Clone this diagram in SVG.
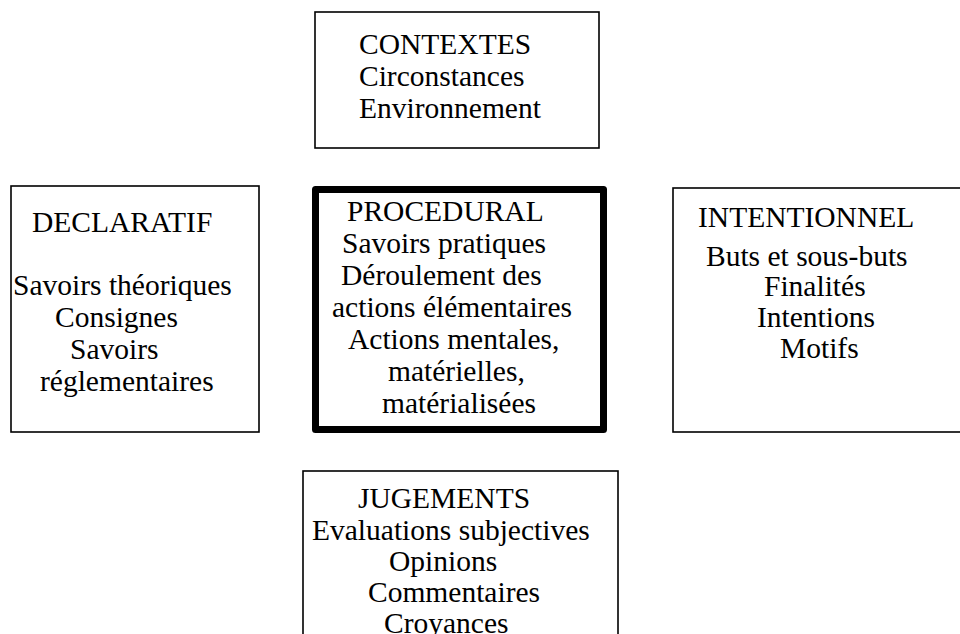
<svg xmlns="http://www.w3.org/2000/svg" width="960" height="634" viewBox="0 0 960 634">
<style>
.box{fill:#fff;stroke:#000;stroke-width:1.6}
.thick{fill:#fff;stroke:#000;stroke-width:7;stroke-linejoin:round}
text{font-family:"Liberation Serif","Times New Roman",serif;font-size:29.5px;fill:#000}
</style>
<rect x="0" y="0" width="960" height="634" fill="#fff"/>
<g id="contextes">
<rect class="box" x="315" y="12" width="284" height="136"/>
<text x="359" y="54">CONTEXTES</text>
<text x="359" y="86">Circonstances</text>
<text x="359" y="118">Environnement</text>
</g>
<g id="declaratif">
<rect class="box" x="11" y="186" width="248" height="246"/>
<text x="32" y="232">DECLARATIF</text>
<text x="13" y="295">Savoirs théoriques</text>
<text x="55" y="327">Consignes</text>
<text x="70" y="359">Savoirs</text>
<text x="40" y="391">réglementaires</text>
</g>
<g id="procedural">
<rect class="thick" x="315.5" y="189.5" width="288" height="240"/>
<text x="347" y="221">PROCEDURAL</text>
<text x="342" y="253">Savoirs pratiques</text>
<text x="341" y="285">Déroulement des</text>
<text x="332" y="317">actions élémentaires</text>
<text x="348" y="349">Actions mentales,</text>
<text x="388" y="381">matérielles,</text>
<text x="382" y="413">matérialisées</text>
</g>
<g id="intentionnel">
<rect class="box" x="673" y="188" width="300" height="244"/>
<text x="698" y="227">INTENTIONNEL</text>
<text x="706" y="266">Buts et sous-buts</text>
<text x="764" y="296">Finalités</text>
<text x="757" y="327">Intentions</text>
<text x="780" y="358">Motifs</text>
</g>
<g id="jugements">
<rect class="box" x="303" y="471" width="315" height="200"/>
<text x="358" y="508">JUGEMENTS</text>
<text x="312" y="540">Evaluations subjectives</text>
<text x="389" y="571">Opinions</text>
<text x="368" y="602">Commentaires</text>
<text x="384" y="633">Croyances</text>
</g>
</svg>
